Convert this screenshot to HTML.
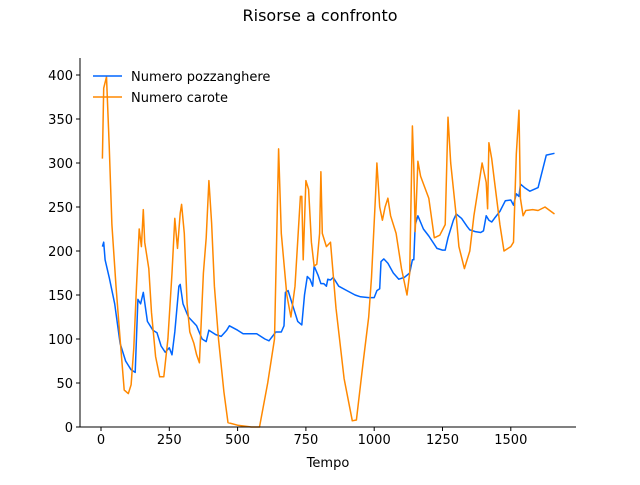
<!DOCTYPE html>
<html><head><meta charset="utf-8"><style>
body{margin:0;background:#fff;}
svg text{font-family:"DejaVu Sans","Liberation Sans",sans-serif;}
</style></head><body>
<svg id="chart" width="640" height="480" xmlns="http://www.w3.org/2000/svg"></svg>
<script>
const xTicks=[0,250,500,750,1000,1250,1500];
const yTicks=[0,50,100,150,200,250,300,350,400];
const pozzX=[5,10,15,30,50,70,90,110,125,135,145,155,170,190,205,220,235,250,260,270,285,290,300,320,350,370,385,395,420,440,460,470,500,520,570,600,615,640,660,670,675,685,700,720,735,745,755,765,775,780,795,805,815,825,830,840,850,870,900,930,950,980,1000,1010,1020,1025,1035,1050,1070,1090,1110,1130,1140,1145,1150,1160,1180,1200,1230,1250,1260,1270,1290,1300,1320,1340,1350,1370,1390,1400,1410,1420,1430,1440,1460,1480,1500,1510,1520,1530,1535,1550,1570,1600,1630,1660];
const pozzY=[205,210,190,170,140,95,75,65,62,145,140,153,120,110,107,92,85,90,82,108,160,162,140,125,115,100,97,110,105,103,110,115,110,106,106,100,98,108,108,115,153,155,140,120,116,150,171,168,160,183,172,163,163,160,168,167,170,160,155,150,148,147,147,155,157,188,191,186,175,168,170,175,190,190,230,240,225,217,203,201,201,215,235,242,237,228,224,222,221,223,240,235,233,237,245,257,258,252,265,262,276,272,268,272,309,311];
const carX=[5,10,20,30,40,55,70,85,100,110,120,130,140,148,155,160,175,185,200,215,230,245,260,270,280,290,295,305,315,325,340,350,360,375,385,395,405,415,430,450,465,500,550,580,610,635,650,660,680,695,710,730,735,740,750,760,770,780,790,800,805,810,825,840,860,890,920,935,960,980,990,1005,1010,1020,1030,1040,1050,1060,1080,1100,1120,1130,1140,1145,1150,1160,1170,1200,1220,1240,1260,1270,1280,1300,1310,1330,1350,1365,1385,1395,1410,1415,1420,1430,1440,1460,1475,1500,1510,1520,1530,1535,1545,1555,1580,1600,1625,1660];
const carY=[305,385,398,320,230,160,100,42,38,48,90,160,225,205,247,210,180,130,80,57,57,100,175,237,203,243,253,220,140,108,95,82,73,175,215,280,232,160,100,40,5,2,0,0,50,100,316,220,150,125,160,262,262,190,280,270,210,183,185,220,290,220,205,210,135,55,7,8,75,125,170,265,300,250,235,250,260,240,220,180,150,175,342,295,222,302,285,260,215,218,230,352,300,240,205,180,200,240,280,300,278,248,323,305,280,230,200,205,210,310,360,260,240,246,247,246,250,242];
const svg=document.getElementById('chart');
const NS='http://www.w3.org/2000/svg';
const L=80,R=576,T=58,B=427;
const xs=v=>101+v*(68.3/250);
const ys=v=>427-v*0.88;
function mk(tag,attrs,parent){const e=document.createElementNS(NS,tag);for(const k in attrs)e.setAttribute(k,attrs[k]);(parent||svg).appendChild(e);return e;}
let t=mk('text',{x:320,y:21,'font-size':16,'text-anchor':'middle'});t.textContent='Risorse a confronto';


function series(xa,ya,color,name){
  let d=xa.map((x,i)=>(i?'L':'M')+xs(x).toFixed(1)+','+ys(ya[i]).toFixed(1)).join('');
  const p=mk('path',{d:d,fill:'none',stroke:color,'stroke-width':1.5,'stroke-linejoin':'round'});
  
  
}
series(pozzX,pozzY,'#0066ff','series-numero-pozzanghere');
series(carX,carY,'#ff8800','series-numero-carote');
let ax=mk('line',{x1:L,y1:T,x2:L,y2:B,stroke:'#000','stroke-width':1});


let bx=mk('line',{x1:L,y1:B,x2:R,y2:B,stroke:'#000','stroke-width':1});


xTicks.forEach(v=>{const x=xs(v);mk('line',{x1:x,y1:B,x2:x,y2:B+4,stroke:'#000'});
  const tx=mk('text',{x:x,y:B+17,'font-size':13,'text-anchor':'middle'});tx.textContent=v;
  
  });
yTicks.forEach(v=>{const y=ys(v);mk('line',{x1:L-4,y1:y,x2:L,y2:y,stroke:'#000'});
  const tx=mk('text',{x:L-7,y:y+5,'font-size':13,'text-anchor':'end'});tx.textContent=v;
  
  });
let xl=mk('text',{x:328,y:467,'font-size':13,'text-anchor':'middle'});xl.textContent='Tempo';


[['Numero pozzanghere','#0066ff',76],['Numero carote','#ff8800',97]].forEach(([n,c,y])=>{
  const g=mk('g',{});
  
  
  mk('line',{x1:93,y1:y,x2:122,y2:y,stroke:c,'stroke-width':1.5},g);
  const tx=mk('text',{x:131,y:y+5,'font-size':13},g);tx.textContent=n;
});
</script>
</body></html>
